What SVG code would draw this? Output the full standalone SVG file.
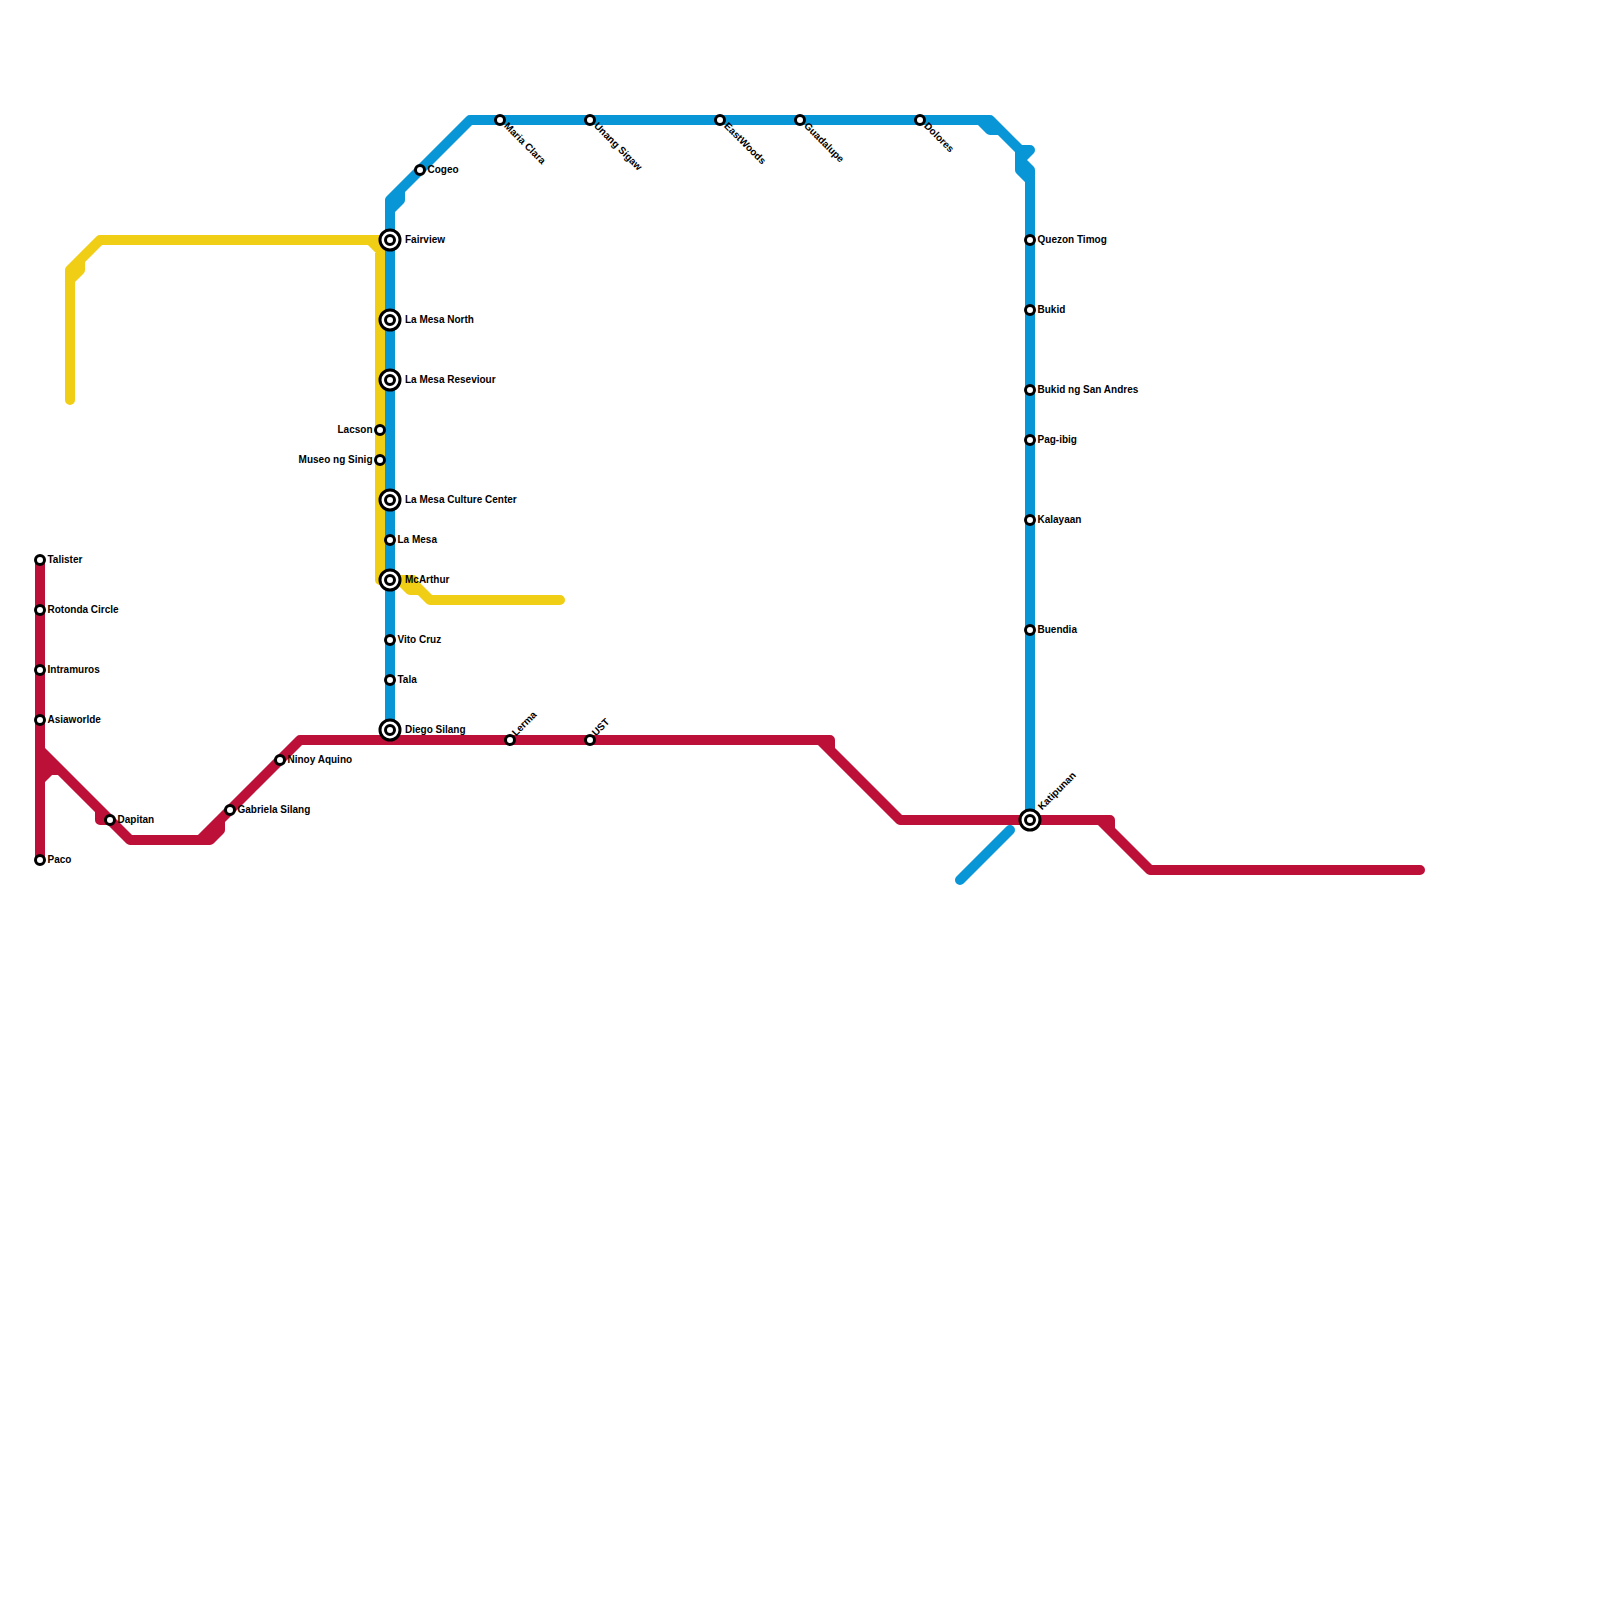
<svg xmlns="http://www.w3.org/2000/svg" width="1600" height="1600" viewBox="0 0 1600 1600">
<style>
.l{fill:none;stroke-width:10;stroke-linecap:round;stroke-linejoin:round}
.y{stroke:#f0ce15}.b{stroke:#0896d7}.r{stroke:#bd1038}
.s{fill:#fff;stroke:#000;stroke-width:3}
text{font-family:"Liberation Sans",Arial,sans-serif;font-size:10px;font-weight:700;fill:#000}
</style>
<rect width="1600" height="1600" fill="#fff"/>
<g id="connectors">
<path class="l y" d="M70 400V270L100 240H370L380 250V580H413M70 280L80 270V262M385 240H370M400 580L410 590H420L430 600H560M410 580L430 600"/>
<path class="l b" d="M390 730V200L470 120H990L1020 150H1030L1020 160M1020 150V170L1030 180M1020 160L1030 170V820M980 120L990 130H1000M390 210L400 200V192M960 880L1010 830"/>
<path class="l r" d="M40 560V860M40 750L130 840H210L220 830V820M200 840L300 740H830V750M820 740L900 820H1110V830M1100 820L1150 870H1420M40 780L50 770H60M40 760L50 770M100 810V820H110"/>
</g>
<g id="st-talister"><circle class="s" cx="40" cy="560" r="4.5"/><text x="47.500" y="563">Talister</text></g>
<g id="st-rotonda"><circle class="s" cx="40" cy="610" r="4.500"/><text x="47.500" y="613">Rotonda Circle</text></g>
<g id="st-intramuros"><circle class="s" cx="40" cy="670" r="4.500"/><text x="47.500" y="673">Intramuros</text></g>
<g id="st-asiaworlde"><circle class="s" cx="40" cy="720" r="4.500"/><text x="47.500" y="723">Asiaworlde</text></g>
<g id="st-paco"><circle class="s" cx="40" cy="860" r="4.500"/><text x="47.500" y="863">Paco</text></g>
<g id="st-dapitan"><circle class="s" cx="110" cy="820" r="4.500"/><text x="117.500" y="823">Dapitan</text></g>
<g id="st-gabriela"><circle class="s" cx="230" cy="810" r="4.500"/><text x="237.500" y="813">Gabriela Silang</text></g>
<g id="st-ninoy"><circle class="s" cx="280" cy="760" r="4.500"/><text x="287.500" y="763">Ninoy Aquino</text></g>
<g id="st-lerma"><circle class="s" cx="510" cy="740" r="4.500"/><text transform="translate(516 736.500) rotate(-45)">Lerma</text></g>
<g id="st-ust"><circle class="s" cx="590" cy="740" r="4.500"/><text transform="translate(596 736.500) rotate(-45)">UST</text></g>
<g id="st-katipunan"><circle class="s" cx="1030" cy="820" r="10"/><circle class="s" cx="1030" cy="820" r="4.500"/><text transform="translate(1042 810.500) rotate(-45)">Katipunan</text></g>
<g id="st-diego"><circle class="s" cx="390" cy="730" r="10"/><circle class="s" cx="390" cy="730" r="4.500"/><text x="405" y="733">Diego Silang</text></g>
<g id="st-tala"><circle class="s" cx="390" cy="680" r="4.500"/><text x="397.500" y="683">Tala</text></g>
<g id="st-vito"><circle class="s" cx="390" cy="640" r="4.500"/><text x="397.500" y="643">Vito Cruz</text></g>
<g id="st-mcarthur"><circle class="s" cx="390" cy="580" r="10"/><circle class="s" cx="390" cy="580" r="4.500"/><text x="405" y="583">McArthur</text></g>
<g id="st-lamesa"><circle class="s" cx="390" cy="540" r="4.500"/><text x="397.500" y="543">La Mesa</text></g>
<g id="st-culture"><circle class="s" cx="390" cy="500" r="10"/><circle class="s" cx="390" cy="500" r="4.500"/><text x="405" y="503">La Mesa Culture Center</text></g>
<g id="st-museo"><circle class="s" cx="380" cy="460" r="4.500"/><text x="372.500" y="463" text-anchor="end">Museo ng Sinig</text></g>
<g id="st-lacson"><circle class="s" cx="380" cy="430" r="4.500"/><text x="372.500" y="433" text-anchor="end">Lacson</text></g>
<g id="st-reseviour"><circle class="s" cx="390" cy="380" r="10"/><circle class="s" cx="390" cy="380" r="4.500"/><text x="405" y="383">La Mesa Reseviour</text></g>
<g id="st-north"><circle class="s" cx="390" cy="320" r="10"/><circle class="s" cx="390" cy="320" r="4.500"/><text x="405" y="323">La Mesa North</text></g>
<g id="st-fairview"><circle class="s" cx="390" cy="240" r="10"/><circle class="s" cx="390" cy="240" r="4.500"/><text x="405" y="243">Fairview</text></g>
<g id="st-cogeo"><circle class="s" cx="420" cy="170" r="4.500"/><text x="427.500" y="173">Cogeo</text></g>
<g id="st-maria"><circle class="s" cx="500" cy="120" r="4.500"/><text transform="translate(503.500 126.500) rotate(45)">Maria Clara</text></g>
<g id="st-unang"><circle class="s" cx="590" cy="120" r="4.500"/><text transform="translate(593.500 126.500) rotate(45)">Unang Sigaw</text></g>
<g id="st-eastwoods"><circle class="s" cx="720" cy="120" r="4.500"/><text transform="translate(723.500 126.500) rotate(45)">EastWoods</text></g>
<g id="st-guadalupe"><circle class="s" cx="800" cy="120" r="4.500"/><text transform="translate(803.500 126.500) rotate(45)">Guadalupe</text></g>
<g id="st-dolores"><circle class="s" cx="920" cy="120" r="4.500"/><text transform="translate(923.500 126.500) rotate(45)">Dolores</text></g>
<g id="st-quezon"><circle class="s" cx="1030" cy="240" r="4.500"/><text x="1037.500" y="243">Quezon Timog</text></g>
<g id="st-bukid"><circle class="s" cx="1030" cy="310" r="4.500"/><text x="1037.500" y="313">Bukid</text></g>
<g id="st-andres"><circle class="s" cx="1030" cy="390" r="4.500"/><text x="1037.500" y="393">Bukid ng San Andres</text></g>
<g id="st-pagibig"><circle class="s" cx="1030" cy="440" r="4.500"/><text x="1037.500" y="443">Pag-ibig</text></g>
<g id="st-kalayaan"><circle class="s" cx="1030" cy="520" r="4.500"/><text x="1037.500" y="523">Kalayaan</text></g>
<g id="st-buendia"><circle class="s" cx="1030" cy="630" r="4.500"/><text x="1037.500" y="633">Buendia</text></g>
</svg>
